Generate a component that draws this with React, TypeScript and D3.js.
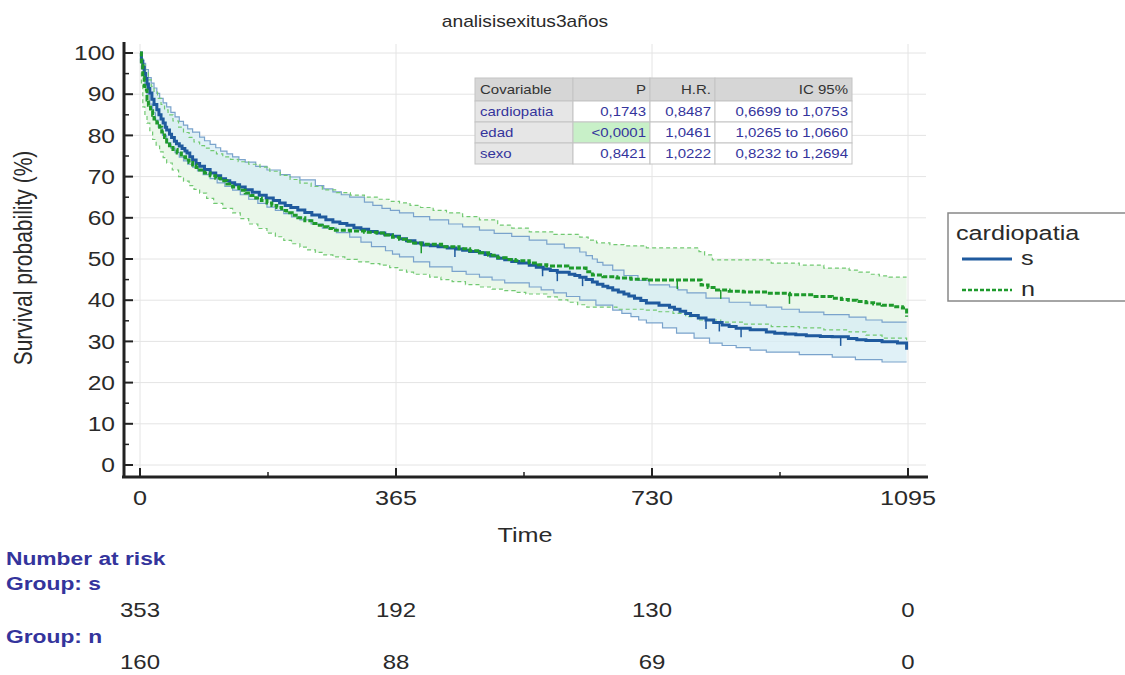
import React from 'react';
import * as d3 from 'd3';

type Pt = [number, number];

// Kaplan-Meier estimates, [time (days), survival %]
const sCurve: Pt[] = [[0,100],[2,98],[4,96.5],[6,95],[8,93.8],[10,92.5],[12,91.4],[14,90.3],[17,88.8],[20,87.5],[24,86.2],[27,85],[30,84],[33,83],[36,82],[38,81.3],[42,80.3],[45,79.5],[49,78.6],[52,78],[56,77.4],[60,76.8],[64,76.2],[67,75.7],[71,74.8],[75,74],[80,73.2],[85,72.5],[92,71.7],[100,70.9],[108,70.2],[115,69.5],[122,69],[128,68.5],[135,68],[142,67.5],[150,66.8],[160,66.2],[170,65.5],[180,64.8],[190,64.2],[199,63.6],[207,63],[215,62.5],[225,61.9],[235,61.3],[245,60.7],[256,60.2],[265,59.5],[275,59],[285,58.6],[295,58.2],[305,57.6],[315,57.2],[326,56.7],[338,56.3],[349,55.9],[360,55.5],[370,54.9],[380,54.4],[392,53.9],[403,53.4],[414,53.2],[425,53],[438,52.7],[450,52.4],[460,52.1],[470,51.8],[484,51.5],[492,51.1],[500,50.7],[510,50.2],[520,49.8],[530,49.4],[540,49],[555,48.5],[565,48],[575,47.6],[585,47.2],[595,46.8],[612,46.3],[620,46],[627,45.6],[636,45],[645,44.4],[652,43.9],[660,43.4],[667,43],[674,42.5],[682,42],[690,41.5],[697,41],[705,40.5],[714,39.9],[722,39.3],[740,38.8],[755,38.3],[762,37.8],[770,37.3],[778,36.8],[785,36.3],[796,35.7],[807,35.2],[818,34.6],[830,34],[840,33.6],[850,33.2],[870,32.8],[893,32.3],[905,32],[920,31.8],[935,31.6],[950,31.4],[970,31.2],[987,31.1],[1010,30.7],[1022,30.4],[1035,30.2],[1058,29.9],[1080,29.6],[1093,28]];
const sUpper: Pt[] = [[0,100],[3,98.5],[5,97.5],[8,96],[12,94],[16,92.7],[20,91.5],[24,90.2],[28,89],[33,87.9],[38,86.9],[44,85.6],[50,84.5],[56,83.4],[62,82.5],[68,81.6],[75,80.8],[85,79.6],[92,78.7],[100,77.8],[108,77],[115,76.2],[124,75.5],[132,74.8],[141,74.1],[150,73.5],[165,72.5],[181,71.6],[200,70.5],[214,69.9],[228,69.2],[250,67.8],[262,67],[275,66.3],[287,65.6],[299,65],[320,63.8],[332,63],[345,62.3],[357,61.8],[370,61.2],[390,60.3],[413,59.5],[440,58.5],[460,57.8],[484,57],[505,56.2],[530,55.5],[555,54.6],[580,53.6],[605,52.7],[627,51.7],[636,50.8],[645,50],[652,49.2],[660,48.5],[674,47.3],[690,46],[710,44.8],[726,43.7],[755,43.2],[767,42.5],[780,41.8],[807,40.5],[840,39.5],[870,38.8],[893,38.3],[915,37.8],[940,37.1],[975,36.5],[1011,35.9],[1035,35.2],[1058,34.7],[1093,34.7]];
const sLower: Pt[] = [[0,100],[3,96],[5,94],[7,92],[10,90],[14,87.6],[18,85.5],[22,83.7],[26,82],[32,80],[38,78.2],[44,76.9],[50,75.8],[56,74.7],[62,73.8],[68,73],[75,72.3],[82,71.4],[90,70.5],[100,69.5],[110,68.5],[121,67.6],[132,66.7],[143,65.6],[155,64.5],[168,63.5],[181,62.6],[193,61.8],[205,61],[216,60.2],[228,59.5],[244,58.5],[260,57.5],[280,56.4],[299,55.3],[315,54.1],[330,53],[350,52],[360,51.2],[370,50.5],[390,49.3],[413,48.1],[445,47],[465,46.3],[484,45.6],[502,44.9],[520,44.2],[555,43.2],[572,42.5],[590,41.8],[608,40.9],[627,40],[650,38.8],[674,37.6],[687,36.8],[700,36],[711,35.2],[722,34.5],[745,33.3],[765,32],[790,30.8],[812,29.6],[830,29],[850,28.5],[870,27.9],[893,27.4],[940,26.8],[987,26.2],[1020,25.6],[1058,25],[1093,25]];
const nCurve: Pt[] = [[0,100],[2,97],[4,94],[6,92],[7,91],[10,88.6],[12,87.3],[15,86],[18,84.9],[20,84],[24,83],[28,82],[31,80.8],[35,79.5],[38,78.4],[42,77.5],[47,76.6],[53,75.7],[59,74.8],[65,74],[70,73.4],[75,72.8],[80,72.2],[85,71.6],[92,70.9],[100,70.2],[108,69.6],[115,69],[124,68.2],[132,67.5],[141,66.7],[150,66],[158,65.4],[165,64.8],[173,64.2],[181,63.6],[188,63],[195,62.5],[202,61.8],[209,61.2],[217,60.6],[225,60],[235,59.3],[245,58.6],[253,58.2],[260,57.8],[268,57.4],[275,57],[300,56.8],[320,56.5],[338,56.3],[350,55.8],[360,55.3],[370,54.8],[380,54.3],[390,53.9],[401,53.6],[430,53],[455,52.5],[470,52],[484,51.5],[497,50.9],[510,50.3],[522,49.9],[535,49.6],[555,49],[568,48.6],[580,48.3],[610,47.8],[627,47.8],[636,46.9],[645,46.1],[660,45.7],[680,45.4],[700,45.1],[722,44.9],[760,44.9],[788,44.9],[800,43.7],[810,43.1],[822,42.5],[840,42.2],[860,42],[895,41.7],[926,41.3],[960,40.9],[987,40.5],[1000,40.2],[1010,40],[1022,39.7],[1035,39.4],[1046,39.1],[1058,38.8],[1075,38.4],[1087,38.1],[1093,36]];
const nUpper: Pt[] = [[0,100],[3,98.3],[5,97],[8,95.2],[12,93.5],[16,91.9],[20,90.5],[25,89],[30,87.5],[35,86.2],[40,85],[47,83.5],[55,82],[62,80.7],[70,79.5],[77,78.4],[85,77.5],[92,76.9],[100,76.3],[109,75.5],[118,74.8],[129,74.2],[140,73.6],[155,73],[171,72.3],[185,71.3],[200,70.3],[214,69.3],[228,68.4],[244,67.6],[260,66.8],[280,66.1],[300,65.5],[320,65],[340,64.5],[355,64],[370,63.6],[385,63],[400,62.5],[418,61.8],[437,61.2],[460,60.3],[484,59.5],[510,58.2],[530,57.5],[555,56.6],[590,56],[627,55.3],[639,54.6],[651,53.9],[670,53.5],[690,53.2],[722,52.7],[788,52.7],[797,51.8],[805,51],[816,49.8],[869,49.8],[900,49],[940,48.5],[975,47.8],[1011,47.3],[1025,46.8],[1040,46.3],[1054,45.9],[1068,45.6],[1093,45.6]];
const nLower: Pt[] = [[0,100],[2,92],[4,86.9],[7,84.8],[10,83],[14,81],[18,79],[23,77.4],[28,76],[33,74.6],[38,73.3],[46,71.6],[55,70],[62,68.9],[70,67.8],[77,66.9],[85,66],[95,64.7],[105,63.5],[118,62.3],[132,61.2],[143,59.8],[155,58.5],[168,57.4],[181,56.3],[193,55.4],[205,54.5],[216,53.7],[228,52.9],[239,52.2],[250,51.6],[262,51],[275,50.5],[292,49.9],[310,49.3],[326,48.9],[342,48.5],[356,47.9],[370,47.3],[380,46.8],[390,46.3],[413,45.6],[429,45],[445,44.5],[464,43.8],[484,43.2],[502,42.7],[520,42.3],[535,41.9],[550,41.5],[580,40.8],[595,40.1],[610,39.5],[624,38.9],[637,38.3],[680,37.8],[722,37.6],[740,37.2],[760,36.8],[778,36],[797,35.2],[828,34.7],[860,34.2],[900,33.6],[940,33.3],[975,32.8],[1011,32.3],[1035,31.5],[1058,30.8],[1093,30.3]];

const sCensored = [449, 574, 595, 631, 807, 826, 857, 999];
const nCensored = [401, 766, 828, 926];

const timeTicks = [0, 365, 730, 1095];
const yTicks = [0, 10, 20, 30, 40, 50, 60, 70, 80, 90, 100];

const groups = ['s', 'n'];
const atRiskS = [353, 192, 130, 0];
const atRiskN = [160, 88, 69, 0];

const tableHeader = ['Covariable', 'P', 'H.R.', 'IC 95%'];
const covariables = ['cardiopatia', 'edad', 'sexo'];
const pValues = ['0,1743', '<0,0001', '0,8421'];
const hazardRatios = ['0,8487', '1,0461', '1,0222'];
const confIntervals = ['0,6699 to 1,0753', '1,0265 to 1,0660', '0,8232 to 1,2694'];

const FONT = 'Liberation Sans, Arial, sans-serif';
const BLUE = '#1f5a9e';
const GREEN = '#1e9a2c';
const TXT_BLUE = '#34349c';
const INK = '#2a2a2a';
const SX = 1.2; // the source image is stretched horizontally

const x = d3.scaleLinear().domain([0, 1095]).range([140, 908]);
const y = d3.scaleLinear().domain([0, 100]).range([465, 53]);

// step lookup for a KM curve
const at = (c: Pt[], t: number) => {
  let v = c[0][1];
  for (const p of c) { if (p[0] <= t) v = p[1]; else break; }
  return v;
};

const line = d3.line<Pt>().x(d => x(d[0])).y(d => y(d[1])).curve(d3.curveStepAfter);

const band = (lo: Pt[], hi: Pt[]) => {
  const ts = Array.from(new Set([...lo.map(d => d[0]), ...hi.map(d => d[0])])).sort((a, b) => a - b);
  return d3.area<number>()
    .x(t => x(t))
    .y0(t => y(at(lo, t)))
    .y1(t => y(at(hi, t)))
    .curve(d3.curveStepAfter)(ts) || '';
};

function T(props: { x: number; y: number; size: number; anchor?: string; fill?: string; dy?: string; bold?: boolean; children: React.ReactNode }) {
  const { x: tx, y: ty, size, anchor = 'start', fill = INK, dy, bold, children } = props;
  return (
    <text transform={`translate(${tx},${ty}) scale(${SX},1)`} textAnchor={anchor} fontSize={size} fill={fill} dy={dy} fontWeight={bold ? 'bold' : 'normal'}>{children}</text>
  );
}

export default function App() {
  const minorY = d3.range(5, 100, 10);
  const minorX = [182.5, 547.5, 912.5];
  const colX = [475, 573, 650, 715, 852];
  const rowY = [78, 101, 122, 143, 164];
  const cells = [tableHeader, ...covariables.map((c, i) => [c, pValues[i], hazardRatios[i], confIntervals[i]])];

  return (
    <svg width={1125} height={675} style={{ position: 'absolute', left: 0, top: 0, fontFamily: FONT }}>
      <rect width={1125} height={675} fill="#fff" />
      <T x={525} y={27} size={16} anchor="middle">analisisexitus3años</T>

      {/* grid */}
      {yTicks.map(v => (
        <line key={'gy' + v} x1={128} x2={926} y1={y(v)} y2={y(v)} stroke="#e4e4e4" strokeWidth={1} />
      ))}
      {timeTicks.map(t => (
        <line key={'gx' + t} x1={x(t)} x2={x(t)} y1={44} y2={472} stroke="#e4e4e4" strokeWidth={1} />
      ))}

      {/* confidence bands */}
      <path d={band(nLower, nUpper)} fill="#eaf7ea" />
      <path d={band(sLower, sUpper)} fill="#d6ecf4" fillOpacity={0.75} />

      <path d={line(sUpper) || ''} fill="none" stroke="#7aa3cc" strokeWidth={1.2} />
      <path d={line(sLower) || ''} fill="none" stroke="#7aa3cc" strokeWidth={1.2} />
      <path d={line(nUpper) || ''} fill="none" stroke="#72c972" strokeWidth={1.2} strokeDasharray="4,3" />
      <path d={line(nLower) || ''} fill="none" stroke="#72c972" strokeWidth={1.2} strokeDasharray="4,3" />

      <path d={line(sCurve) || ''} fill="none" stroke={BLUE} strokeWidth={3} />
      <path d={line(nCurve) || ''} fill="none" stroke={GREEN} strokeWidth={3} strokeDasharray="5,2" />

      {sCensored.map(t => (
        <line key={'cs' + t} x1={x(t)} x2={x(t)} y1={y(at(sCurve, t))} y2={y(at(sCurve, t)) + 9} stroke={BLUE} strokeWidth={1.5} />
      ))}
      {nCensored.map(t => (
        <line key={'cn' + t} x1={x(t)} x2={x(t)} y1={y(at(nCurve, t))} y2={y(at(nCurve, t)) + 9} stroke={GREEN} strokeWidth={1.5} />
      ))}

      {/* axes */}
      <line x1={124} x2={124} y1={42} y2={478} stroke="#222" strokeWidth={3} />
      <line x1={122} x2={928} y1={477} y2={477} stroke="#222" strokeWidth={3} />
      {yTicks.map(v => (
        <g key={'yt' + v}>
          <line x1={124} x2={133} y1={y(v)} y2={y(v)} stroke="#222" strokeWidth={2} />
          <T x={115} y={y(v)} size={20.5} anchor="end" dy="0.35em">{v}</T>
        </g>
      ))}
      {minorY.map(v => (
        <line key={'my' + v} x1={124} x2={129} y1={y(v)} y2={y(v)} stroke="#222" strokeWidth={1.5} />
      ))}
      {timeTicks.map(t => (
        <g key={'xt' + t}>
          <line x1={x(t)} x2={x(t)} y1={477} y2={468} stroke="#222" strokeWidth={2} />
          <T x={x(t)} y={505} size={21} anchor="middle">{t}</T>
        </g>
      ))}
      {minorX.map(t => (
        <line key={'mx' + t} x1={x(t)} x2={x(t)} y1={477} y2={472} stroke="#222" strokeWidth={1.5} />
      ))}
      <T x={525} y={542} size={21} anchor="middle">Time</T>
      <text transform="translate(32,258) rotate(-90) scale(1,1.2)" textAnchor="middle" fontSize={21} fill={INK}>Survival probability (%)</text>

      {/* table */}
      {cells.map((row, r) => row.map((c, k) => {
        const bg = r === 0 ? '#d6d6d6' : k === 0 ? '#e6e6e6' : (r === 2 && k === 1) ? '#c8f0c8' : '#fff';
        return (
          <g key={'c' + r + k}>
            <rect x={colX[k]} y={rowY[r]} width={colX[k + 1] - colX[k]} height={rowY[r + 1] - rowY[r]} fill={bg} stroke="#c4c4c4" strokeWidth={1} />
            <T x={k === 0 ? colX[k] + 5 : colX[k + 1] - 4} y={(rowY[r] + rowY[r + 1]) / 2} dy="0.35em" anchor={k === 0 ? 'start' : 'end'} size={12.5} fill={r === 0 ? '#333' : TXT_BLUE}>{c}</T>
          </g>
        );
      }))}

      {/* legend */}
      <rect x={948} y={213} width={185} height={88} fill="#fff" stroke="#888" strokeWidth={1.5} />
      <T x={956} y={240} size={21}>cardiopatia</T>
      <line x1={962} x2={1012} y1={259} y2={259} stroke={BLUE} strokeWidth={3} />
      <T x={1021} y={265} size={21}>{groups[0]}</T>
      <line x1={962} x2={1012} y1={290} y2={290} stroke={GREEN} strokeWidth={2.5} strokeDasharray="4,2" />
      <T x={1021} y={296} size={21}>{groups[1]}</T>

      {/* number at risk */}
      <T x={6} y={565} size={19} fill={TXT_BLUE} bold>Number at risk</T>
      <T x={6} y={590} size={19} fill={TXT_BLUE} bold>Group: {groups[0]}</T>
      {atRiskS.map((v, i) => (
        <T key={'rs' + i} x={x(timeTicks[i])} y={617} size={20} anchor="middle">{v}</T>
      ))}
      <T x={6} y={643} size={19} fill={TXT_BLUE} bold>Group: {groups[1]}</T>
      {atRiskN.map((v, i) => (
        <T key={'rn' + i} x={x(timeTicks[i])} y={669} size={20} anchor="middle">{v}</T>
      ))}
    </svg>
  );
}
